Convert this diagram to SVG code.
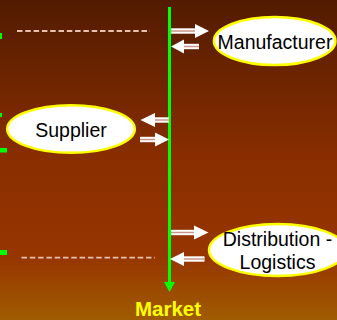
<svg xmlns="http://www.w3.org/2000/svg" width="337" height="320" viewBox="0 0 337 320">
<defs>
<linearGradient id="bg" x1="0" y1="0" x2="0" y2="1">
<stop offset="0" stop-color="#521b00"/>
<stop offset="0.5" stop-color="#8a2e00"/>
<stop offset="0.8" stop-color="#963500"/>
<stop offset="1" stop-color="#a05c00"/>
</linearGradient>
<style>
.node ellipse{fill:#fff;stroke:#ffff00;stroke-width:2.5}
.node text{font-family:"Liberation Sans",Arial,sans-serif;font-size:19.5px;fill:#000;text-anchor:middle}
.dash{stroke:#e8c0b0;stroke-width:1.8;stroke-dasharray:5.5 2.8;fill:none}
.shaft{fill:#fff}
.mid{stroke:#c8968a;stroke-width:1.5}
.head{fill:#fff}
.green{fill:#00ff00}
</style>
</defs>
<rect x="0" y="0" width="337" height="320" fill="url(#bg)"/>
<g id="edge-marks">
<rect class="green" x="0" y="33" width="2" height="6"/>
<rect class="green" x="0" y="113" width="2" height="4"/>
<rect class="green" x="0" y="148" width="7" height="4.5"/>
<rect class="green" x="0" y="250" width="7" height="5"/>
</g>
<line class="dash" x1="17" y1="31" x2="150" y2="31"/>
<line class="dash" x1="21.5" y1="257.7" x2="155" y2="257.7"/>
<g id="connectors">
<g id="market-line">
<rect class="green" x="168" y="7" width="3" height="277"/>
<polygon class="green" points="164,282 175,282 169.5,292"/>
</g>
<g id="arrow-to-manufacturer">
<rect class="shaft" x="171" y="28.3" width="24" height="5.4"/>
<line class="mid" x1="171" y1="31" x2="195" y2="31"/>
<polygon class="head" points="195,24 209,31 195,38"/>
</g>
<g id="arrow-from-manufacturer">
<rect class="shaft" x="184" y="43.8" width="15" height="5.4"/>
<line class="mid" x1="184" y1="46.5" x2="199" y2="46.5"/>
<polygon class="head" points="184,39.5 171,46.5 184,53.5"/>
</g>
<g id="arrow-to-supplier">
<rect class="shaft" x="154" y="117.3" width="15" height="5.4"/>
<line class="mid" x1="154" y1="120" x2="169" y2="120"/>
<polygon class="head" points="155,113 140.5,120 155,127"/>
</g>
<g id="arrow-from-supplier">
<rect class="shaft" x="140" y="136.8" width="16" height="5.4"/>
<line class="mid" x1="140" y1="139.5" x2="156" y2="139.5"/>
<polygon class="head" points="155,132.5 169,139.5 155,146.5"/>
</g>
<g id="arrow-to-distribution">
<rect class="shaft" x="171" y="229.8" width="23.5" height="5.4"/>
<line class="mid" x1="171" y1="232.5" x2="194.5" y2="232.5"/>
<polygon class="head" points="194,225.5 208.5,232.5 194,239.5"/>
</g>
<g id="arrow-from-distribution">
<rect class="shaft" x="183" y="256.3" width="21.5" height="5.4"/>
<line class="mid" x1="183" y1="259" x2="204.5" y2="259"/>
<polygon class="head" points="184,252 170,259 184,266"/>
</g>
</g>
<g id="manufacturer" class="node">
<ellipse cx="274.7" cy="41" rx="60.8" ry="24"/>
<text x="275" y="49">Manufacturer</text>
</g>
<g id="supplier" class="node">
<ellipse cx="71" cy="129" rx="63.8" ry="23.8"/>
<text x="71" y="136.5">Supplier</text>
</g>
<g id="distribution" class="node">
<ellipse cx="277.5" cy="250" rx="68.5" ry="26"/>
<text x="277.5" y="246">Distribution -</text>
<text x="277.5" y="269">Logistics</text>
</g>
<text id="market" x="168" y="315.5" font-family="'Liberation Sans',Arial,sans-serif" font-size="20.5" font-weight="bold" fill="#ffff00" text-anchor="middle">Market</text>
</svg>
